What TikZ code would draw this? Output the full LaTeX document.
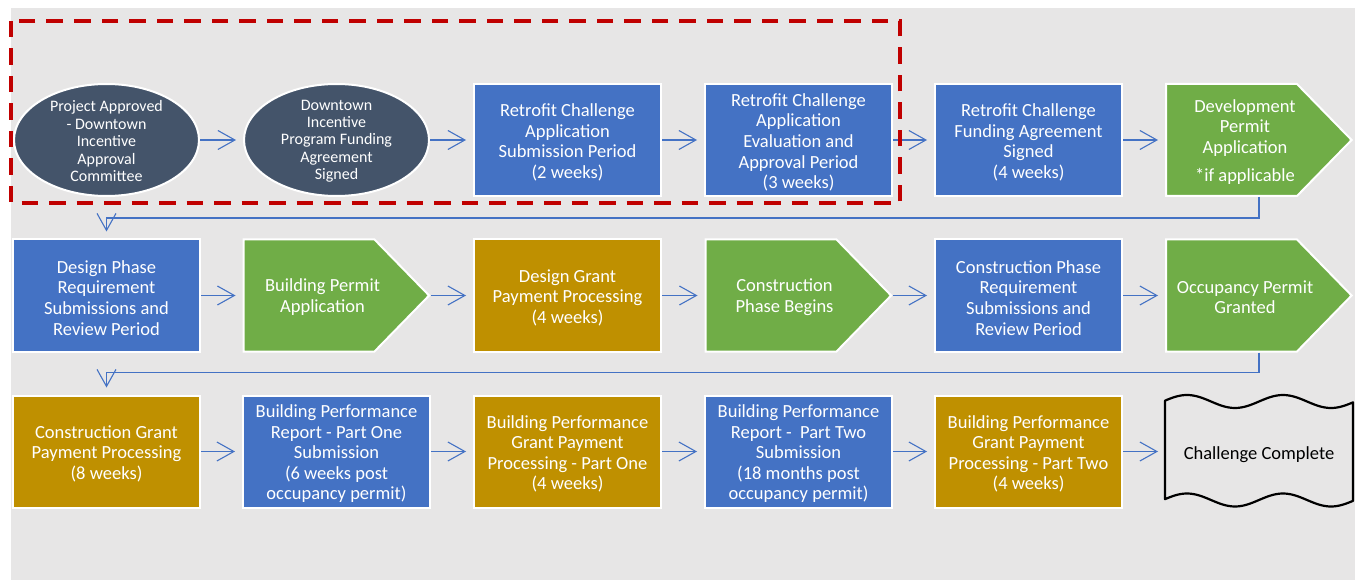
\documentclass[tikz,border=0pt]{standalone}
\usepackage{fontspec}
\setmainfont{Carlito}
\usetikzlibrary{arrows.meta,shapes.geometric,calc}

\definecolor{paneGray}{HTML}{E7E6E6}
\definecolor{boxBlue}{HTML}{4472C4}
\definecolor{leafGreen}{HTML}{70AD47}
\definecolor{boxGold}{HTML}{BF9000}
\definecolor{ovalSlate}{HTML}{44546A}
\definecolor{flowBlue}{HTML}{4472C4}
\definecolor{markRed}{HTML}{C00000}

% Plain step: filled shape node plus its centred caption
\newcommand\stepbox[5]{%
  \node[#1] (#2) at (#3,#4) {};
  \node[txt] (#2-t) at ($(#2.center)+(0,2.3)$) {#5};
}
% Oval step with smaller caption
\newcommand\stepoval[4]{%
  \node[oval] (#1) at (#2,#3) {};
  \node[smalltxt] (#1-t) at ($(#1.center)+(0,1.2)$) {#4};
}
% Arrow-shaped step: invisible frame node, green pentagon, caption
\newcommand\homeplate[4]{%
  \node[slot] (#1) at (#2,#3) {};
  \path[fill=leafGreen, draw=white, line width=2pt, line join=miter]
    ($(#1.north west)+(1,1)$) -- ($(#1.north east)+(-56,1)$) --
    ($(#1.east)+(-1.4,0)$) -- ($(#1.south east)+(-56,-1)$) --
    ($(#1.south west)+(1,-1)$) -- cycle;
  \node[txt] (#1-t) at ($(#1.center)+(-14,1.8)$) {#4};
}

\begin{document}
\begin{tikzpicture}[x=1pt, y=-1pt,
  txt/.style={align=center, text=white, inner sep=0pt,
    font=\fontsize{18.5}{20.6}\selectfont},
  smalltxt/.style={txt, font=\fontsize{16}{17.4}\selectfont},
  onetxt/.style={txt, text=black,
    execute at begin node={\rule{0pt}{21.5pt}},
    execute at end node={\rule[-6.5pt]{0pt}{6.5pt}}},
  box/.style={rectangle, draw=white, line width=2pt,
    minimum width=187pt, minimum height=112pt},
  bluebox/.style={box, fill=boxBlue},
  goldbox/.style={box, fill=boxGold},
  oval/.style={ellipse, draw=white, line width=2pt, fill=ovalSlate,
    minimum width=185pt, minimum height=112pt, inner sep=0pt},
  slot/.style={rectangle, minimum width=188pt, minimum height=114pt,
    inner sep=0pt, outer sep=0pt},
  flow/.style={draw=flowBlue, line width=1.1pt,
    -{Straight Barb[length=17pt,width=19pt]}, shorten >=7pt},
]
\useasboundingbox (0,0) rectangle (1358,580);
\fill[white] (0,0) rectangle (1358,580);
\fill[paneGray] (11,8) rectangle (1355,580);

% ---- first row -------------------------------------------------------
\stepoval{a1}{106.5}{140}{Project Approved\\- Downtown\\Incentive\\Approval\\Committee}
\stepoval{a2}{336.5}{140}{Downtown\\Incentive\\Program Funding\\Agreement\\Signed}
\stepbox{bluebox}{a3}{567.5}{140}{Retrofit Challenge\\Application\\Submission Period\\(2 weeks)}
\stepbox{bluebox}{a4}{798.5}{140}{Retrofit Challenge\\Application\\Evaluation and\\Approval Period\\(3 weeks)}
\stepbox{bluebox}{a5}{1028.5}{140}{Retrofit Challenge\\Funding Agreement\\Signed\\(4 weeks)}
\homeplate{a6}{1259}{140}{Development\\Permit\\Application\\[7pt]*if applicable}

% ---- second row ------------------------------------------------------
\stepbox{bluebox}{b1}{106.5}{295.5}{Design Phase\\Requirement\\Submissions and\\Review Period}
\homeplate{b2}{336.5}{295.5}{Building Permit\\Application}
\stepbox{goldbox}{b3}{567.5}{295.5}{Design Grant\\Payment Processing\\(4 weeks)}
\homeplate{b4}{798.5}{295.5}{Construction\\Phase Begins}
\stepbox{bluebox}{b5}{1028.5}{295.5}{Construction Phase\\Requirement\\Submissions and\\Review Period}
\homeplate{b6}{1259}{295.5}{Occupancy Permit\\Granted}

% ---- third row -------------------------------------------------------
\stepbox{goldbox}{c1}{106.5}{451.5}{Construction Grant\\Payment Processing\\(8 weeks)}
\stepbox{bluebox}{c2}{336.5}{451.5}{Building Performance\\Report - Part One\\Submission\\(6 weeks post\\occupancy permit)}
\stepbox{goldbox}{c3}{567.5}{451.5}{Building Performance\\Grant Payment\\Processing - Part One\\(4 weeks)}
\stepbox{bluebox}{c4}{798.5}{451.5}{Building Performance\\Report -~~Part Two\\Submission\\(18 months post\\occupancy permit)}
\stepbox{goldbox}{c5}{1028.5}{451.5}{Building Performance\\Grant Payment\\Processing - Part Two\\(4 weeks)}
\node[slot, minimum height=100pt, onetxt] (c6) at (1259,451.5) {Challenge Complete};
\draw[black, line width=2.2pt, line join=round]
  plot[domain=1165:1353, samples=80] (\x, {401.5-6.5*cos((\x-1187)*3.75)})
  -- plot[domain=1353:1165, samples=80] (\x, {500-6.5*cos((\x-1187)*3.75)})
  -- cycle;

% ---- connectors ------------------------------------------------------
\draw[flow] (a1.east) -- (a2.west);
\draw[flow] (a2.east) -- (a3.west);
\draw[flow] (a3.east) -- (a4.west);
\draw[flow] (a4.east) -- (a5.west);
\draw[flow] (a5.east) -- (a6.west);
\draw[flow] (a6.south) -- ++(0,21) -| (b1.north);

\draw[flow] (b1.east) -- (b2.west);
\draw[flow] (b2.east) -- (b3.west);
\draw[flow] (b3.east) -- (b4.west);
\draw[flow] (b4.east) -- (b5.west);
\draw[flow] (b5.east) -- (b6.west);
\draw[flow] (b6.south) -- ++(0,20) -| (c1.north);

\draw[flow] (c1.east) -- (c2.west);
\draw[flow] (c2.east) -- (c3.west);
\draw[flow] (c3.east) -- (c4.west);
\draw[flow] (c4.east) -- (c5.west);
\draw[flow] (c5.east) -- (c6.west);

% ---- dashed frame around the approval stage --------------------------
\draw[markRed, line width=4pt, dash pattern=on 16.5pt off 11pt]
  (11,21) rectangle (900,203);
\end{tikzpicture}
\end{document}
